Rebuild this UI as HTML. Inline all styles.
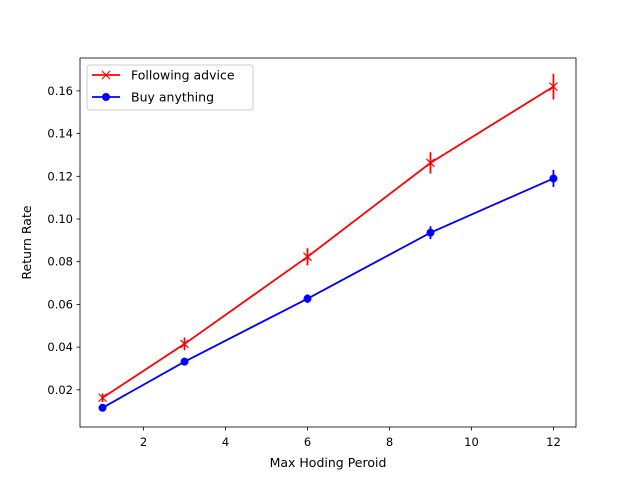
<!DOCTYPE html>
<html><head><meta charset="utf-8"><style>
body{margin:0;background:#fff;}
svg{display:block;font-family:"DejaVu Sans","Liberation Sans",sans-serif;}
</style></head><body>
<svg id="chart" width="640" height="480">
<rect width="640" height="480" fill="#fff"/>
</svg>
<script>
const xValues=[1,3,6,9,12];
const adviceValues=[0.0163,0.0415,0.0823,0.1263,0.162];
const adviceErr=[0.002,0.003,0.004,0.005,0.006];
const anyValues=[0.0116,0.0332,0.0627,0.0936,0.119];
const anyErr=[0.001,0.0015,0.002,0.003,0.004];
const xTicks=[2,4,6,8,10,12];
const yTicks=[0.02,0.04,0.06,0.08,0.10,0.12,0.14,0.16];
const L=80,R=576,T=58,B=427;
const xMin=0.45,xMax=12.55,yMin=0.0026,yMax=0.1754;
const sx=v=>L+(v-xMin)/(xMax-xMin)*(R-L);
const sy=v=>B-(v-yMin)/(yMax-yMin)*(B-T);
const svg=document.getElementById('chart');
const NS='http://www.w3.org/2000/svg';
function mk(t,a,p){const e=document.createElementNS(NS,t);for(const k in a)e.setAttribute(k,a[k]);(p||svg).appendChild(e);return e;}
xTicks.forEach(v=>{const x=sx(v);
mk('line',{x1:x,x2:x,y1:B,y2:B+3.5,stroke:'#000','stroke-width':0.8});
const t=mk('text',{x:x,y:B+19,'text-anchor':'middle','font-size':11.5});t.textContent=String(v);

});
yTicks.forEach(v=>{const y=sy(v);
mk('line',{x1:L-3.5,x2:L,y1:y,y2:y,stroke:'#000','stroke-width':0.8});
const t=mk('text',{x:L-7,y:y+4,'text-anchor':'end','font-size':11.5});t.textContent=v.toFixed(2);

});
function series(vals,errs,color,marker,name){
const g=mk('g',{});


mk('polyline',{points:xValues.map((x,i)=>sx(x)+','+sy(vals[i])).join(' '),fill:'none',stroke:color,'stroke-width':1.8},g);
xValues.forEach((x,i)=>{const cx=sx(x),cy=sy(vals[i]);
mk('line',{x1:cx,x2:cx,y1:sy(vals[i]-errs[i]),y2:sy(vals[i]+errs[i]),stroke:color,'stroke-width':1.8},g);
if(marker==='x'){mk('path',{d:`M${cx-4},${cy-4}L${cx+4},${cy+4}M${cx-4},${cy+4}L${cx+4},${cy-4}`,stroke:color,'stroke-width':1.2},g);}
else mk('circle',{cx:cx,cy:cy,r:4,fill:color},g);});
}
series(adviceValues,adviceErr,'#ff0000','x','series-following-advice');
series(anyValues,anyErr,'#0000ff','o','series-buy-anything');
mk('rect',{x:L,y:T,width:R-L,height:B-T,fill:'none',stroke:'#000','stroke-width':0.8});
let t=mk('text',{x:(L+R)/2,y:467,'text-anchor':'middle','font-size':12.5});t.textContent='Max Hoding Peroid';

t=mk('text',{x:31,y:(T+B)/2,'text-anchor':'middle','font-size':12.5,transform:`rotate(-90 31 ${(T+B)/2})`});t.textContent='Return Rate';

const lg=mk('g',{});

mk('rect',{x:87,y:65,width:166,height:45,rx:3,fill:'#fff',stroke:'#ccc','stroke-width':1},lg);
mk('line',{x1:92,x2:120,y1:75,y2:75,stroke:'#f00','stroke-width':1.8},lg);
mk('path',{d:'M102,71L110,79M102,79L110,71',stroke:'#f00','stroke-width':1.2},lg);
t=mk('text',{x:131,y:79.5,'font-size':12.5},lg);t.textContent='Following advice';
mk('line',{x1:92,x2:120,y1:97,y2:97,stroke:'#00f','stroke-width':1.8},lg);
mk('circle',{cx:106,cy:97,r:4,fill:'#00f'},lg);
t=mk('text',{x:131,y:101.5,'font-size':12.5},lg);t.textContent='Buy anything';
</script>
</body></html>
